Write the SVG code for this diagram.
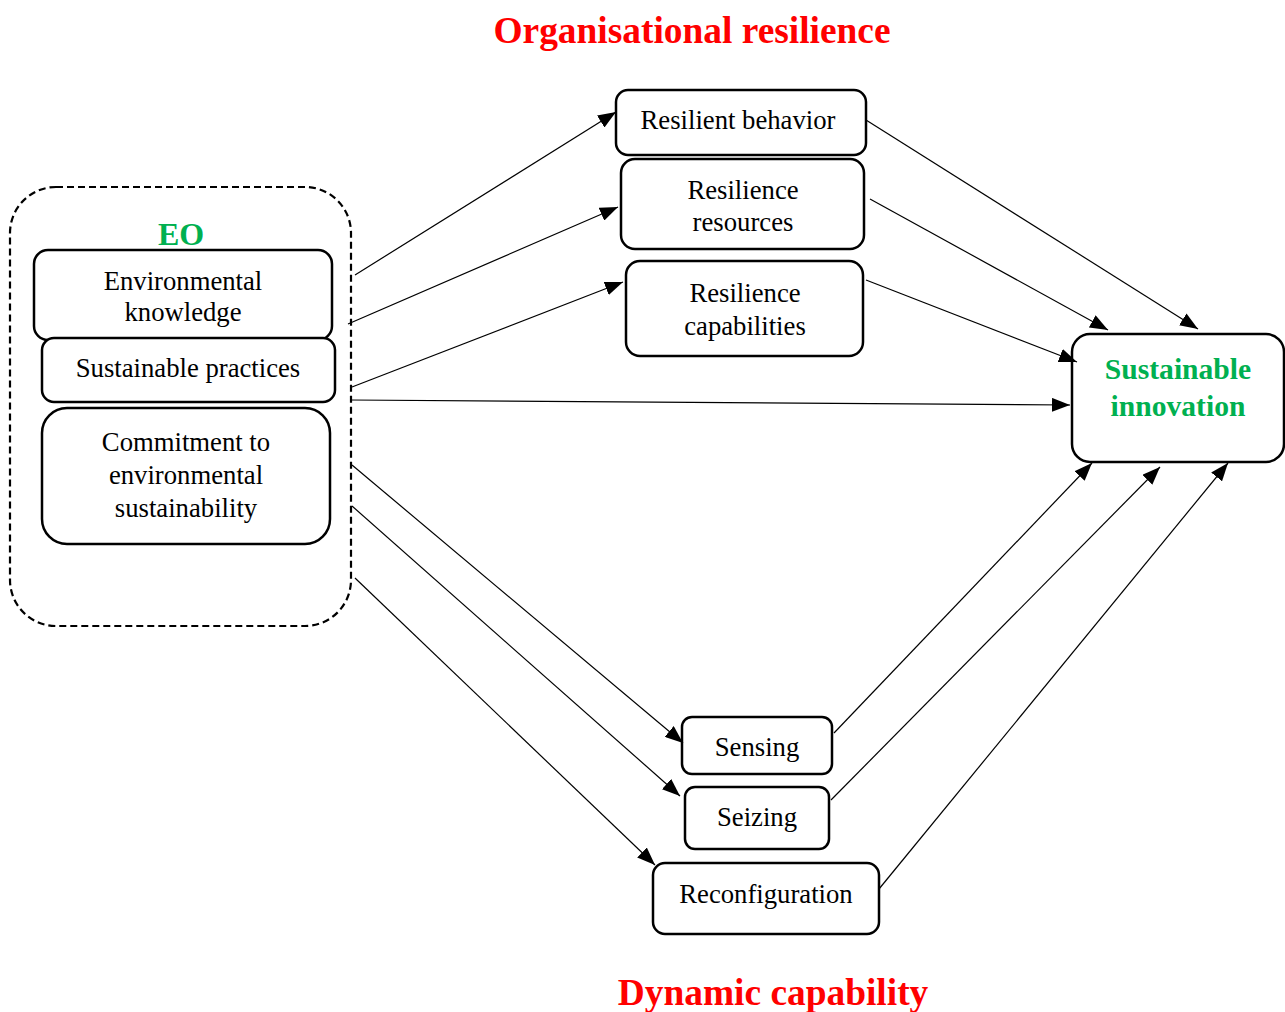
<svg xmlns="http://www.w3.org/2000/svg" width="1285" height="1012" viewBox="0 0 1285 1012">
  <style>
    .box { fill: #fff; stroke: #000; stroke-width: 2.5; }
    .lbl { font-family: "Liberation Serif", "Times New Roman", serif; font-size: 26.7px; fill: #000; text-anchor: middle; }
    .title { font-family: "Liberation Serif", "Times New Roman", serif; font-size: 37.4px; font-weight: bold; fill: #ff0000; text-anchor: middle; }
    .green { font-family: "Liberation Serif", "Times New Roman", serif; font-weight: bold; fill: #00b050; text-anchor: middle; }
    .conn { stroke: #000; stroke-width: 1.2; fill: none; marker-end: url(#arrow); }
  </style>
  <defs>
    <marker id="arrow" markerUnits="userSpaceOnUse" markerWidth="20" markerHeight="14" refX="18" refY="7" orient="auto">
      <path d="M0,0 L18,7 L0,14 Z" fill="#000"/>
    </marker>
  </defs>
  <rect width="1285" height="1012" fill="#fff"/>

  <text class="title" x="692" y="43">Organisational resilience</text>
  <text class="title" x="773" y="1005">Dynamic capability</text>

  <g id="eo">
    <rect x="10" y="187" width="341" height="439" rx="46" fill="none" stroke="#000" stroke-width="2.2" stroke-dasharray="7,4"/>
    <text class="green" x="181" y="245" font-size="32">EO</text>
  </g>
  <g id="env-knowledge">
    <rect class="box" x="34" y="250" width="298" height="90" rx="14"/>
    <text class="lbl" x="183" y="290">Environmental</text>
    <text class="lbl" x="183" y="321">knowledge</text>
  </g>
  <g id="sust-practices">
    <rect class="box" x="42" y="338" width="293" height="64" rx="12"/>
    <text class="lbl" x="188" y="377">Sustainable practices</text>
  </g>
  <g id="commitment">
    <rect class="box" x="42" y="408" width="288" height="136" rx="25"/>
    <text class="lbl" x="186" y="451">Commitment to</text>
    <text class="lbl" x="186" y="484">environmental</text>
    <text class="lbl" x="186" y="517">sustainability</text>
  </g>

  <g id="resilient-behavior">
    <rect class="box" x="616" y="90" width="250" height="65" rx="12"/>
    <text class="lbl" x="738" y="129">Resilient behavior</text>
  </g>
  <g id="resilience-resources">
    <rect class="box" x="621" y="159" width="243" height="90" rx="14"/>
    <text class="lbl" x="743" y="199">Resilience</text>
    <text class="lbl" x="743" y="231">resources</text>
  </g>
  <g id="resilience-capabilities">
    <rect class="box" x="626" y="261" width="237" height="95" rx="14"/>
    <text class="lbl" x="745" y="302">Resilience</text>
    <text class="lbl" x="745" y="335">capabilities</text>
  </g>

  <g id="sustainable-innovation">
    <rect class="box" x="1072" y="334" width="212" height="128" rx="18"/>
    <text class="green" x="1178" y="379" font-size="29.6">Sustainable</text>
    <text class="green" x="1178" y="416" font-size="29.6">innovation</text>
  </g>

  <g id="sensing">
    <rect class="box" x="682" y="717" width="150" height="57" rx="10"/>
    <text class="lbl" x="757" y="756">Sensing</text>
  </g>
  <g id="seizing">
    <rect class="box" x="685" y="787" width="144" height="62" rx="10"/>
    <text class="lbl" x="757" y="826">Seizing</text>
  </g>
  <g id="reconfiguration">
    <rect class="box" x="653" y="863" width="226" height="71" rx="12"/>
    <text class="lbl" x="766" y="903">Reconfiguration</text>
  </g>

  <g id="connectors">
    <line class="conn" x1="355" y1="275" x2="616" y2="112"/>
    <line class="conn" x1="348" y1="324" x2="618" y2="207"/>
    <line class="conn" x1="352" y1="387" x2="623" y2="282"/>
    <line class="conn" x1="350" y1="400" x2="1070" y2="405"/>
    <line class="conn" x1="352" y1="465" x2="683" y2="743"/>
    <line class="conn" x1="352" y1="506" x2="680" y2="796"/>
    <line class="conn" x1="355" y1="578" x2="655" y2="865"/>
    <line class="conn" x1="866" y1="120" x2="1198" y2="329"/>
    <line class="conn" x1="870" y1="199" x2="1108" y2="330"/>
    <line class="conn" x1="866" y1="280" x2="1077" y2="362"/>
    <line class="conn" x1="834" y1="733" x2="1092" y2="463"/>
    <line class="conn" x1="831" y1="800" x2="1160" y2="467"/>
    <line class="conn" x1="879" y1="889" x2="1228" y2="463"/>
  </g>
</svg>
